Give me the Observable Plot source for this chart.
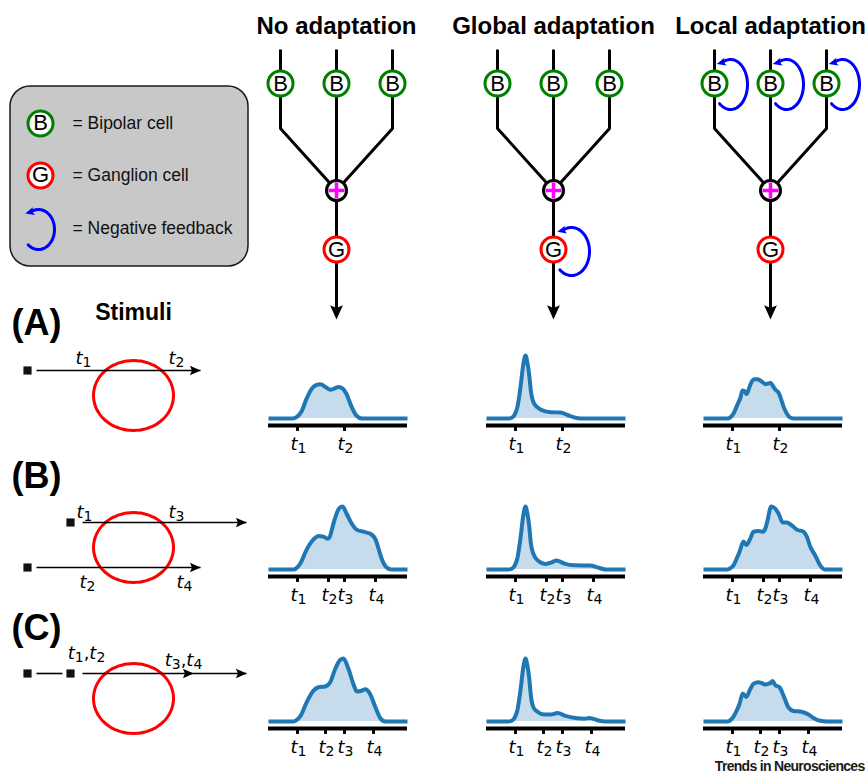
<!DOCTYPE html>
<html><head><meta charset="utf-8">
<script src="https://cdn.jsdelivr.net/npm/d3@7"></script>
<script src="https://cdn.jsdelivr.net/npm/@observablehq/plot@0.6"></script>
<style>
body{margin:0;background:#fff}
#fig{position:relative;width:867px;height:776px;overflow:hidden;background:#fff}
#fig svg{position:absolute;overflow:visible}
</style>
</head><body><div id="fig"></div>
<script>
// ================= DATA =================
const circuitTitles = ["No adaptation", "Global adaptation", "Local adaptation"];
const adaptationType = ["none", "global", "local"];
const rowLabels = ["(A)", "(B)", "(C)"];
const stimuliTitle = "Stimuli";
const legendLabels = ["= Bipolar cell", "= Ganglion cell", "= Negative feedback"];
const legendLetters = ["B", "G"];
const bipolarLetter = "B";
const ganglionLetter = "G";
const sourceNote = "Trends in Neurosciences";

// Response curves: [time, response]; time runs 0–139 across a panel, response 0–1
const curveNoA = [[0,0],[24,0],[28,0.02],[33,0.1],[38,0.28],[43,0.42],[48,0.48],[52,0.49],[57,0.45],[62,0.41],[66,0.43],[70,0.45],[74,0.43],[78,0.35],[83,0.17],[88,0.04],[93,0],[139,0]];
const curveGlobalA = [[0,0],[21,0],[25,0.01],[28,0.05],[31,0.17],[34,0.45],[37,0.79],[39,0.9],[41,0.79],[42.7,0.62],[44.3,0.4],[47.7,0.21],[54,0.13],[64,0.09],[74,0.085],[81,0.05],[89,0.01],[94,0],[139,0]];
const curveLocalA = [[0,0],[24,0],[27,0.02],[30,0.07],[34,0.2],[37,0.3],[39,0.4],[41,0.39],[43,0.35],[46,0.45],[48,0.52],[51,0.56],[54,0.56],[57,0.54],[60,0.51],[62,0.49],[65,0.5],[67,0.51],[70,0.45],[72,0.41],[75,0.37],[78,0.26],[80,0.17],[83,0.08],[86,0.02],[90,0],[139,0]];
const curveNoB = [[0,0],[25,0],[28,0.02],[32,0.09],[38,0.28],[45,0.43],[50,0.48],[55,0.47],[59,0.44],[61,0.46],[65,0.66],[70,0.86],[74,0.9],[78,0.8],[83,0.66],[88,0.57],[95,0.54],[103,0.5],[107,0.43],[110,0.3],[113,0.16],[118,0.03],[123,0],[139,0]];
const curveGlobalB = [[0,0],[21,0],[25,0.01],[28,0.05],[31,0.17],[34,0.45],[37,0.79],[39,0.9],[41,0.79],[42.7,0.62],[44.3,0.38],[47,0.22],[52,0.12],[59,0.08],[65,0.1],[70,0.13],[74,0.11],[78,0.085],[88,0.06],[104,0.057],[111,0.03],[119,0],[139,0]];
const curveLocalB = [[0,0],[24,0],[27,0.02],[30,0.06],[33,0.15],[36,0.25],[40,0.4],[42.7,0.35],[46.7,0.44],[50,0.54],[55,0.55],[59.3,0.54],[61.7,0.58],[64,0.7],[67.7,0.9],[71.7,0.87],[75,0.8],[79.3,0.67],[83.3,0.67],[88.3,0.63],[93.3,0.57],[100,0.54],[103.3,0.47],[106.7,0.33],[111.7,0.2],[116.7,0.06],[121.7,0],[139,0]];
const curveNoC = [[0,0],[25,0],[28,0.02],[32,0.08],[38,0.27],[45,0.44],[50,0.49],[56.7,0.5],[61.7,0.56],[66.7,0.75],[71.7,0.88],[75,0.9],[80,0.75],[85,0.53],[88.3,0.43],[93.3,0.44],[96.7,0.46],[101.7,0.39],[106.7,0.21],[111.7,0.05],[116.7,0],[139,0]];
const curveGlobalC = [[0,0],[21,0],[25,0.01],[28,0.05],[31,0.17],[34,0.45],[37,0.79],[39,0.9],[41,0.79],[42.7,0.62],[44.3,0.38],[47,0.2],[51,0.14],[57.7,0.1],[64,0.1],[71,0.12],[79,0.08],[89,0.05],[98,0.04],[103,0.05],[112.7,0.01],[119,0],[139,0]];
const curveLocalC = [[0,0],[24,0],[27,0.02],[30,0.07],[33,0.15],[36,0.25],[39.3,0.4],[42.7,0.35],[46.7,0.46],[50,0.54],[55,0.56],[58,0.55],[61.7,0.53],[65,0.54],[67,0.55],[69,0.58],[71.7,0.52],[76,0.49],[80,0.37],[85,0.2],[90,0.15],[98,0.14],[105,0.1],[110,0.05],[116.7,0.01],[123,0],[139,0]];

// Time ticks of each stimulus row (labels in t_n notation: italic t, subscript n)
const tickTimesA = [29, 76];
const tickTimesB = [29, 60, 76, 107];
const tickTimesC = [29, 57, 76, 105];
const tickLabelsA = ["t_1", "t_2"];
const tickLabelsB = ["t_1", "t_2", "t_3", "t_4"];
const tickLabelsC = ["t_1", "t_2", "t_3", "t_4"];

// Stimulus labels
const stimulusLabelsA = ["t_1", "t_2"];
const stimulusLabelsB = ["t_1", "t_3", "t_2", "t_4"];
const stimulusLabelsC = ["t_1,t_2", "t_3,t_4"];

// ================= LAYOUT (positions & styles) =================
const L = {
  W: 867, H: 776,
  colX: [336, 553, 770],
  bipolarDX: [-56, 0, 56],
  yTop: 49, yBip: 83, yBend: 128, ySum: 190, yGang: 249, yTip: 318,
  cellR: 12.5, sumR: 10, plusArm: 8,
  titleY: 26,
  legendBox: {x1: 10, y1: 86, x2: 248, y2: 266},
  legendIconX: 40, legendTextX: 72, legendY: [123, 175, 228],
  legendLoop: {cx: 38, cy: 229, rx: 16, ry: 20},
  rowLabelX: 36, rowLabelY: [323, 476, 628],
  stimuliTitle: {x: 133, y: 312},
  stimSquares: [[27,370],[70,522],[27,567],[27,673],[70,673]],
  stimLines: [[36,200,370],[82,246,522],[36,200,567],[36,62,673],[82,246,673]],
  stimHeads: [[200,370],[246,522],[200,567],[193,673],[246,673]],
  stimEllipses: [[133,395],[133,547],[133,698]],
  ellipseR: [40, 35],
  // label centre x and baseline y
  stimLabelPos: [[[83,363],[176,363]], [[84,517],[176,517],[87,587],[184,587]], [[86,658],[183,665]]],
  panelLeft: [268, 486, 703], panelWidth: 139, rowBase: [418, 569, 721],
  notePos: {x: 864, y: 766},
  green: "#008000", red: "#ff0000", blue: "#0000ff", magenta: "#ff00ff",
  sans: "Liberation Sans, Arial, sans-serif", math: "DejaVu Sans, sans-serif",
  tSize: 18, subSize: 14, subShift: 3
};

// custom glyphs
const stealth = {draw(ctx, size) {
  const r = Math.sqrt(size / Math.PI);
  ctx.moveTo(0, -1.2 * r); ctx.lineTo(0.8 * r, 0.6 * r); ctx.lineTo(0, 0.25 * r);
  ctx.lineTo(-0.8 * r, 0.6 * r); ctx.closePath();
}};
const plusGlyph = {draw(ctx, size) {
  const a = Math.sqrt(size / Math.PI);
  ctx.moveTo(-a, 0); ctx.lineTo(a, 0); ctx.moveTo(0, -a); ctx.lineTo(0, a);
}};

// lay out "t_1,t_2" style labels into glyph pieces (advance widths of DejaVu Sans)
function mathPieces(label, cx, baseY) {
  const toks = label.match(/t_\d|,/g);
  const pieces = [];
  let w = 0;
  for (const tk of toks) {
    if (tk === ",") { pieces.push({s: ",", kind: "plain", x: w}); w += 0.318 * L.tSize; }
    else {
      pieces.push({s: "t", kind: "t", x: w}); w += 0.392 * L.tSize;
      pieces.push({s: tk[2], kind: "sub", x: w}); w += 0.636 * L.subSize;
    }
  }
  const x0 = cx - w / 2;
  return pieces.map(p => ({...p, x: x0 + p.x, y: baseY + (p.kind === "sub" ? L.subShift : 0)}));
}
function mathMarks(pieces, xOpt, yOpt) {
  return [
    Plot.text(pieces.filter(p => p.kind === "t"), {x: xOpt, y: yOpt, text: "s", textAnchor: "start", lineAnchor: "bottom", fontSize: L.tSize, fontStyle: "italic", fontFamily: L.math, fill: "black"}),
    Plot.text(pieces.filter(p => p.kind !== "t"), {x: xOpt, y: yOpt, text: "s", textAnchor: "start", lineAnchor: "bottom", fontSize: p => p.kind === "sub" ? L.subSize : L.tSize, fontFamily: L.math, fill: "black"})
  ];
}

// ---------- derived diagram geometry ----------
const bipolars = [], ganglions = [], sums = [], branchPts = [], outputs = [], loops = [];
L.colX.forEach((cx, i) => {
  L.bipolarDX.forEach((dx, j) => {
    bipolars.push({x: cx + dx, y: L.yBip});
    const id = `b${i}${j}`;
    branchPts.push({id, x: cx + dx, y: L.yTop}, {id, x: cx + dx, y: L.yBend}, {id, x: cx, y: L.ySum});
    if (adaptationType[i] === "local") loops.push({cx: cx + dx + 16, cy: L.yBip + 1, rx: 17, ry: 25});
  });
  sums.push({x: cx, y: L.ySum});
  ganglions.push({x: cx, y: L.yGang});
  outputs.push({x: cx, y1: L.ySum, y2: L.yTip - 8});
  if (adaptationType[i] === "global") loops.push({cx: cx + 18, cy: L.yGang + 2, rx: 18, ry: 24});
});
loops.push(L.legendLoop);

function arc(spec, id, a0, a1, n) {
  const pts = [];
  for (let k = 0; k <= n; k++) {
    const a = (a0 + (a1 - a0) * k / n) * Math.PI / 180;
    pts.push({id, x: spec.cx + spec.rx * Math.cos(a), y: spec.cy + spec.ry * Math.sin(a)});
  }
  return pts;
}
const loopPts = loops.flatMap((s, i) => arc(s, "loop" + i, 130, -118, 40));
const loopHeads = loops.map((s) => arc(s, "h", -118, -118, 1)[0]);
const ellipsePts = L.stimEllipses.flatMap(([cx, cy], i) =>
  arc({cx, cy, rx: L.ellipseR[0], ry: L.ellipseR[1]}, "e" + i, 0, 360, 72).slice(0, -1));

const stimPieces = [stimulusLabelsA, stimulusLabelsB, stimulusLabelsC]
  .flatMap((labs, r) => labs.flatMap((t, k) => mathPieces(t, L.stimLabelPos[r][k][0], L.stimLabelPos[r][k][1])));

// ---------- main diagram ----------
const main = Plot.plot({
  width: L.W, height: L.H, margin: 0,
  x: {domain: [0, L.W], range: [0, L.W], axis: null},
  y: {domain: [0, L.H], range: [0, L.H], axis: null},
  style: {fontFamily: L.sans, background: "transparent"},
  marks: [
    // legend box
    Plot.rect([L.legendBox], {x1: "x1", x2: "x2", y1: "y1", y2: "y2", rx: 20, fill: "#c8c8c8", stroke: "#1a1a1a", strokeWidth: 1.5}),
    // circuit wiring
    Plot.line(branchPts, {x: "x", y: "y", z: "id", stroke: "black", strokeWidth: 3, strokeLinejoin: "miter", strokeLinecap: "butt"}),
    Plot.link(outputs, {x1: "x", x2: "x", y1: "y1", y2: "y2", stroke: "black", strokeWidth: 3}),
    Plot.dot(outputs, {x: "x", y: d => d.y2 - 0.5, symbol: stealth, r: 8, rotate: 180, fill: "black"}),
    // feedback loops
    Plot.line(loopPts, {x: "x", y: "y", z: "id", stroke: L.blue, strokeWidth: 3, curve: "catmull-rom"}),
    Plot.dot(loopHeads, {x: "x", y: "y", symbol: stealth, r: 5, rotate: 255, fill: L.blue}),
    // cells
    Plot.dot(bipolars, {x: "x", y: "y", r: L.cellR, fill: "white", stroke: L.green, strokeWidth: 3}),
    Plot.dot(ganglions, {x: "x", y: "y", r: L.cellR, fill: "white", stroke: L.red, strokeWidth: 3}),
    Plot.dot(sums, {x: "x", y: "y", r: L.sumR, fill: "white", stroke: "black", strokeWidth: 3}),
    Plot.dot(sums, {x: "x", y: "y", r: L.plusArm, symbol: plusGlyph, stroke: L.magenta, strokeWidth: 3.5}),
    Plot.text(bipolars, {x: "x", y: "y", text: () => bipolarLetter, fontSize: 22, fill: "black"}),
    Plot.text(ganglions, {x: "x", y: "y", text: () => ganglionLetter, fontSize: 22, fill: "black"}),
    // legend icons & text
    Plot.dot([0, 1], {x: () => L.legendIconX, y: i => L.legendY[i], r: L.cellR, fill: "white", stroke: i => [L.green, L.red][i], strokeWidth: 3}),
    Plot.text([0, 1], {x: () => L.legendIconX, y: i => L.legendY[i] - 1, text: i => legendLetters[i], fontSize: 22}),
    Plot.text(legendLabels, {x: () => L.legendTextX, y: (d, i) => L.legendY[i], text: d => d, textAnchor: "start", fontSize: 17.5, fill: "#111"}),
    // titles
    Plot.text(circuitTitles, {x: (d, i) => L.colX[i], y: () => L.titleY, text: d => d, fontSize: 24, fontWeight: "bold"}),
    Plot.text(rowLabels, {x: () => L.rowLabelX, y: (d, i) => L.rowLabelY[i], text: d => d, fontSize: 36, fontWeight: "bold"}),
    Plot.text([stimuliTitle], {x: () => L.stimuliTitle.x, y: () => L.stimuliTitle.y, text: d => d, fontSize: 23, fontWeight: "bold"}),
    // stimuli
    Plot.line(ellipsePts, {x: "x", y: "y", z: "id", stroke: L.red, strokeWidth: 3, curve: "catmull-rom-closed"}),
    Plot.link(L.stimLines, {x1: d => d[0], x2: d => d[1], y1: d => d[2], y2: d => d[2], stroke: "black", strokeWidth: 1.6}),
    Plot.dot(L.stimHeads, {x: d => d[0] - 7, y: d => d[1], symbol: stealth, r: 6, rotate: 90, fill: "black"}),
    Plot.dot(L.stimSquares, {x: d => d[0], y: d => d[1], symbol: "square", r: 4.6, fill: "#111"}),
    ...mathMarks(stimPieces, "x", "y"),
    // source note
    Plot.text([sourceNote], {x: () => L.notePos.x, y: () => L.notePos.y, text: d => d, textAnchor: "end", fontSize: 14, fontWeight: "bold", fill: "#1a1a1a"})
  ]
});
main.style.left = "0px"; main.style.top = "0px";
d3.select(main).selectAll("text").filter(function() { return this.textContent === sourceNote; })
  .style("letter-spacing", "-0.7px");
document.getElementById("fig").appendChild(main);

// ---------- response panels ----------
const panelCurves = [[curveNoA, curveGlobalA, curveLocalA], [curveNoB, curveGlobalB, curveLocalB], [curveNoC, curveGlobalC, curveLocalC]];
const panelTicks = [tickTimesA, tickTimesB, tickTimesC];
const panelTickLabels = [tickLabelsA, tickLabelsB, tickLabelsC];
const pad = 5, plotTop = 8, plotH = 70, labelBase = 31;
panelCurves.forEach((row, r) => row.forEach((curve, c) => {
  const ticks = panelTicks[r], labels = panelTickLabels[r];
  const y0 = plotTop + plotH;
  const x = d3.scaleLinear([0, L.panelWidth], [pad, pad + L.panelWidth]);
  // tick-label glyph pieces, positioned in panel pixel space then inverted through the scales
  const pieces = ticks.flatMap((t, i) => mathPieces(labels[i], x(t) + 1, y0 + labelBase))
    .map(p => ({...p, t: x.invert(p.x), r: (y0 - p.y) / plotH}));
  const svg = Plot.plot({
    width: L.panelWidth + 2 * pad, height: y0 + 46,
    marginLeft: pad, marginRight: pad, marginTop: plotTop, marginBottom: 46,
    x: {domain: [0, L.panelWidth], range: [pad, pad + L.panelWidth], axis: null},
    y: {domain: [0, 1], range: [y0, plotTop], axis: null},
    style: {background: "transparent", overflow: "visible"},
    marks: [
      Plot.areaY(curve, {x: d => d[0], y: d => d[1], fill: "#c6dcec", curve: "monotone-x"}),
      Plot.line(curve, {x: d => d[0], y: d => d[1], stroke: "#1f77b4", strokeWidth: 4, curve: "monotone-x", strokeLinecap: "butt"}),
      Plot.ruleY([0], {dy: 7, stroke: "black", strokeWidth: 4}),
      Plot.ruleX(ticks, {x: d => d, y1: 0, y2: -0.085, dy: 7, stroke: "black", strokeWidth: 3}),
      ...mathMarks(pieces, "t", "r")
    ]
  });
  svg.style.left = (L.panelLeft[c] - pad) + "px";
  svg.style.top = (L.rowBase[r] - y0) + "px";
  document.getElementById("fig").appendChild(svg);
}));
</script>
</body></html>
